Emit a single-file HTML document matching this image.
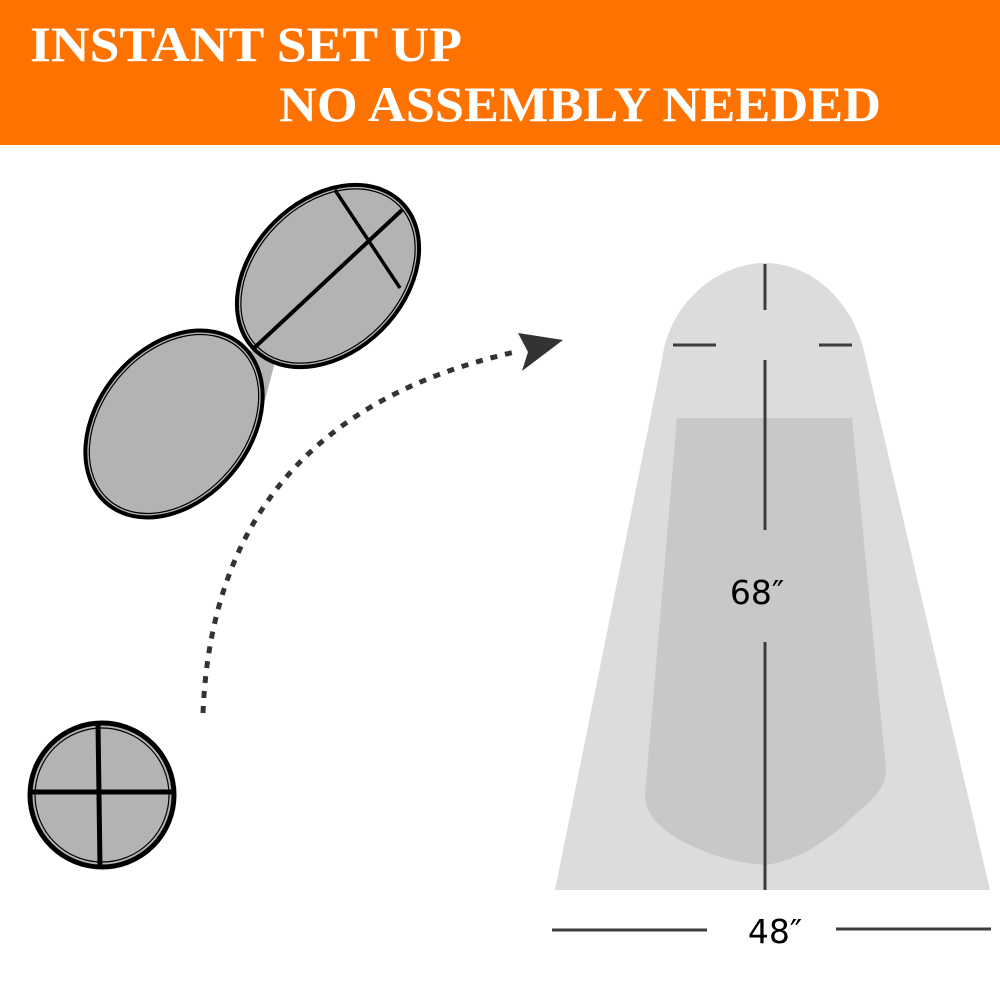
<!DOCTYPE html>
<html><head><meta charset="utf-8"><style>
html,body{margin:0;padding:0;background:#fff;width:1000px;height:1000px;overflow:hidden}
svg{display:block}
</style></head><body>
<svg width="1000" height="1000" viewBox="0 0 1000 1000">
  <rect x="0" y="0" width="1000" height="145" fill="#fe7200"/>
  <text x="30" y="61" font-family="Liberation Serif, serif" font-weight="bold" font-size="50" fill="#fff" textLength="432" lengthAdjust="spacingAndGlyphs">INSTANT SET UP</text>
  <text x="279" y="121" font-family="Liberation Serif, serif" font-weight="bold" font-size="50" fill="#fff" textLength="602" lengthAdjust="spacingAndGlyphs">NO ASSEMBLY NEEDED</text>

  <g>
    <polygon points="250,350 275,362 265,400 240,380" fill="#b3b3b3"/>
    <ellipse cx="174" cy="424" rx="104" ry="76" transform="rotate(-50 174 424)" fill="#b3b3b3" stroke="#000" stroke-width="4"/>
    <ellipse cx="174" cy="424" rx="100" ry="72" transform="rotate(-50 174 424)" fill="none" stroke="#000" stroke-width="1.2"/>
    <ellipse cx="328" cy="276" rx="104" ry="76" transform="rotate(-45 328 276)" fill="#b3b3b3" stroke="#000" stroke-width="4"/>
    <ellipse cx="328" cy="276" rx="100" ry="72" transform="rotate(-45 328 276)" fill="none" stroke="#000" stroke-width="1.2"/>
    <line x1="252" y1="350" x2="402" y2="210" stroke="#000" stroke-width="4"/>
    <line x1="335" y1="190" x2="400" y2="288" stroke="#000" stroke-width="3.5"/>
  </g>

  <path d="M203,713 Q215,420 515,352" fill="none" stroke="#333" stroke-width="5" stroke-dasharray="7,8"/>
  <polygon points="518,333 563,340 522,371 528,352" fill="#333"/>

  <g>
    <circle cx="102" cy="795" r="72" fill="#b3b3b3" stroke="#000" stroke-width="5"/>
    <circle cx="102" cy="795" r="67" fill="none" stroke="#000" stroke-width="1.2"/>
    <line x1="98" y1="723" x2="100" y2="867" stroke="#000" stroke-width="5"/>
    <line x1="30" y1="792" x2="174" y2="792" stroke="#000" stroke-width="5"/>
  </g>

  <g>
    <path d="M555,890 L662,360 C670,300 720,263 765,263 C810,263 855,300 866,360 L990,890 Z" fill="#dcdcdc"/>
    <path d="M677,418 L852,418 L886,770 Q886,790 860,810 Q810,860 765,865 Q720,862 680,840 Q645,820 645,795 Z" fill="#c8c8c8"/>
    <g stroke="#3c3c3c" stroke-width="3">
      <line x1="765" y1="264" x2="765" y2="310"/>
      <line x1="765" y1="360" x2="765" y2="530"/>
      <line x1="765" y1="642" x2="765" y2="890"/>
      <line x1="673" y1="345" x2="716" y2="345"/>
      <line x1="819" y1="345" x2="852" y2="345"/>
      <line x1="552" y1="930" x2="707" y2="930"/>
      <line x1="836" y1="929" x2="991" y2="929"/>
    </g>
    <text x="757" y="604" text-anchor="middle" font-family="DejaVu Sans, sans-serif" font-size="33" fill="#000">68″</text>
    <text x="775" y="943" text-anchor="middle" font-family="DejaVu Sans, sans-serif" font-size="33" fill="#000">48″</text>
  </g>
</svg>
</body></html>
